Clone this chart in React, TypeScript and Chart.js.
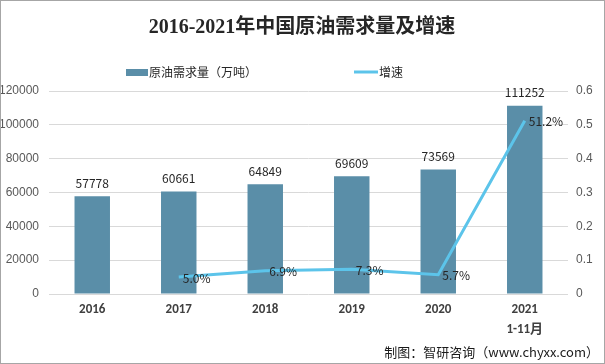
import React, { useEffect, useRef } from "react";
import { Chart, registerables } from "chart.js";

Chart.register(...registerables);

const title = "2016-2021年中国原油需求量及增速";
const categories: (string | string[])[] = ["2016", "2017", "2018", "2019", "2020", ["2021", "1-11月"]];
const demand = [57778, 60661, 64849, 69609, 73569, 111252];
const growth = [null, 0.05, 0.069, 0.073, 0.057, 0.512];
const growthLabels = ["", "5.0%", "6.9%", "7.3%", "5.7%", "51.2%"];
const barLabel = "原油需求量（万吨）";
const lineLabel = "增速";
const source = "制图：智研咨询（www.chyxx.com）";

const BAR_COLOR = "#5a8ea8";
const LINE_COLOR = "#5cc4ea";
const CJK = '"Noto Sans CJK SC", "Noto Sans", sans-serif';

const decorPlugin = {
  id: "decor",
  afterDatasetsDraw(chart: any) {
    const ctx = chart.ctx;
    ctx.save();
    const barMeta = chart.getDatasetMeta(0);
    ctx.font = `12px ${CJK}`;
    ctx.fillStyle = "#262626";
    ctx.textAlign = "center";
    ctx.textBaseline = "bottom";
    barMeta.data.forEach((el: any, i: number) => {
      ctx.fillText(String(demand[i]), el.x, el.y - 7);
    });
    const lineMeta = chart.getDatasetMeta(1);
    ctx.textAlign = "left";
    ctx.textBaseline = "middle";
    lineMeta.data.forEach((el: any, i: number) => {
      if (growth[i] == null) return;
      ctx.fillText(growthLabels[i], el.x + 4, el.y + 1);
    });
    ctx.restore();
  },
  afterDraw(chart: any) {
    const ctx = chart.ctx;
    ctx.save();
    ctx.font = `bold 20px "Liberation Serif", "Noto Sans CJK SC", serif`;
    ctx.fillStyle = "#262626";
    ctx.textAlign = "center";
    ctx.textBaseline = "middle";
    ctx.fillText(title, 302, 28);
    ctx.font = `12px ${CJK}`;
    ctx.textAlign = "left";
    ctx.fillStyle = BAR_COLOR;
    ctx.fillRect(126, 69, 22, 7);
    ctx.fillStyle = "#262626";
    ctx.fillText(barLabel, 149, 72);
    ctx.strokeStyle = LINE_COLOR;
    ctx.lineWidth = 3;
    ctx.beginPath();
    ctx.moveTo(354, 72);
    ctx.lineTo(378, 72);
    ctx.stroke();
    ctx.fillStyle = "#262626";
    ctx.fillText(lineLabel, 379, 72);
    ctx.font = `13px ${CJK}`;
    ctx.fillStyle = "#1a1a1a";
    ctx.textAlign = "right";
    ctx.fillText(source, 599, 352);
    ctx.strokeStyle = "#a6a6a6";
    ctx.lineWidth = 1;
    ctx.strokeRect(0.5, 0.5, 604, 363);
    ctx.restore();
  },
};

export default function App() {
  const ref = useRef<HTMLCanvasElement>(null);
  useEffect(() => {
    document.body.style.margin = "0";
    const chart = new Chart(ref.current!, {
      type: "bar",
      data: {
        labels: categories,
        datasets: [
          {
            type: "bar",
            label: barLabel,
            data: demand,
            backgroundColor: BAR_COLOR,
            barPercentage: 0.41,
            categoryPercentage: 1,
            yAxisID: "y",
            order: 2,
          },
          {
            type: "line",
            label: lineLabel,
            data: growth as any,
            borderColor: LINE_COLOR,
            backgroundColor: LINE_COLOR,
            borderWidth: 3,
            pointRadius: 0,
            tension: 0,
            yAxisID: "y1",
            order: 1,
          },
        ],
      },
      options: {
        responsive: false,
        animation: false,
        layout: { padding: { top: 91, left: 0, right: 0, bottom: 0 } },
        plugins: { legend: { display: false }, title: { display: false }, tooltip: { enabled: false } },
        scales: {
          x: {
            grid: { display: false, drawTicks: false },
            border: { display: false },
            ticks: {
              color: "#404040",
              font: { family: "Calibri, Carlito, 'Liberation Sans', 'Noto Sans CJK SC'", size: 13, weight: "bold", lineHeight: 1.55 } as any,
              padding: 6,
              maxRotation: 0,
            },
            afterFit(s: any) {
              s.height = 70;
            },
          },
          y: {
            position: "left",
            min: 0,
            max: 120000,
            ticks: {
              stepSize: 20000,
              color: "#595959",
              font: { size: 12, family: "'Liberation Sans', sans-serif" },
              padding: 10,
              callback: (v: any) => String(v),
            },
            grid: { color: "#d9d9d9", drawTicks: false },
            border: { display: false },
            afterFit(s: any) {
              s.width = 49;
            },
          },
          y1: {
            position: "right",
            min: 0,
            max: 0.6,
            ticks: {
              stepSize: 0.1,
              color: "#595959",
              font: { size: 12, family: "'Liberation Sans', sans-serif" },
              padding: 8,
              callback: (v: any) => String(Math.round(Number(v) * 10) / 10),
            },
            grid: { display: false, drawTicks: false },
            border: { display: false },
            afterFit(s: any) {
              s.width = 37;
            },
          },
        },
      },
      plugins: [decorPlugin],
    });
    return () => chart.destroy();
  }, []);
  return (
    <div style={{ width: 605, height: 364, background: "#fff" }}>
      <canvas ref={ref} width={605} height={364} style={{ display: "block" }} />
    </div>
  );
}
